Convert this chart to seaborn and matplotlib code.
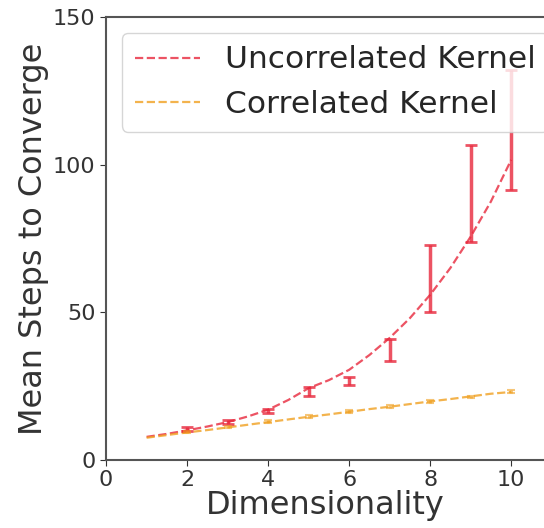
import numpy as np
import pandas as pd
import matplotlib
matplotlib.use("Agg")
import matplotlib.pyplot as plt
import seaborn as sns

# fitted curves
fit_x = [1, 1.5, 2, 2.5, 3, 3.5, 4, 4.5, 5, 5.5, 6, 6.5, 7, 7.5, 8, 8.5, 9, 9.5, 10]
uncorr_fit = [7.8, 8.8, 10.0, 11.3, 12.8, 14.7, 17.0, 20.3, 24.3, 27.0, 30.5, 35.5, 41.3, 48.0, 55.9, 65.0, 75.6, 87.5, 101.6]
corr_fit = [7.5, 8.4, 9.3, 10.1, 11.0, 11.9, 12.8, 13.7, 14.6, 15.4, 16.3, 17.2, 18.0, 18.9, 19.8, 20.6, 21.5, 22.4, 23.0]

# measured means with errors
dims = [2, 3, 4, 5, 6, 7, 8, 9, 10]
uncorr_mean = [10.5, 12.9, 16.6, 23.2, 26.6, 37.2, 61.5, 90.2, 111.7]
uncorr_err = [0.6, 0.6, 0.7, 1.4, 1.3, 3.8, 11.3, 16.5, 20.3]
corr_mean = [9.5, 11.2, 13.0, 14.8, 16.3, 18.0, 19.7, 21.3, 23.0]
corr_err = [0.4, 0.4, 0.4, 0.5, 0.5, 0.5, 0.5, 0.5, 0.5]

red = "#e8283c"
orange = "#f0a020"

sns.set_style("ticks")
fig = plt.figure(figsize=(5.44, 5.28), dpi=100)
ax = fig.add_axes([0.195, 0.129, 0.805, 0.839])

fits = pd.DataFrame({"x": fit_x, "Uncorrelated Kernel": uncorr_fit, "Correlated Kernel": corr_fit})
sns.lineplot(data=fits, x="x", y="Uncorrelated Kernel", ax=ax, color=red, linestyle="--",
             lw=1.6, alpha=0.8, label="Uncorrelated Kernel")
sns.lineplot(data=fits, x="x", y="Correlated Kernel", ax=ax, color=orange, linestyle="--",
             lw=1.6, alpha=0.8, label="Correlated Kernel")

ax.errorbar(dims, uncorr_mean, yerr=uncorr_err, fmt="none", ecolor=red, elinewidth=2.5,
            capsize=4, capthick=2, alpha=0.8)
ax.errorbar(dims, corr_mean, yerr=corr_err, fmt="none", ecolor=orange, elinewidth=2,
            capsize=3, capthick=1.5, alpha=0.6)

ax.set_xlim(0, 10.81)
ax.set_ylim(0, 150)
ax.set_xticks([0, 2, 4, 6, 8, 10])
ax.set_yticks([0, 50, 100, 150])
ax.tick_params(labelsize=16, length=4, colors="#333333")
ax.set_xlabel("Dimensionality", fontsize=23, color="#333333", labelpad=0)
ax.set_ylabel("Mean Steps to Converge", fontsize=23, color="#333333", labelpad=3)
ax.spines["right"].set_visible(False)
for s in ["left", "top", "bottom"]:
    ax.spines[s].set_color("#555555")
    ax.spines[s].set_linewidth(1.5)

ax.legend(loc="upper left", bbox_to_anchor=(122 / 544, 1 - 33 / 528), bbox_transform=fig.transFigure,
          fontsize=22.5, frameon=True, framealpha=0.8, handlelength=2.1, borderaxespad=0)

fig.savefig("out.png", dpi=100)
